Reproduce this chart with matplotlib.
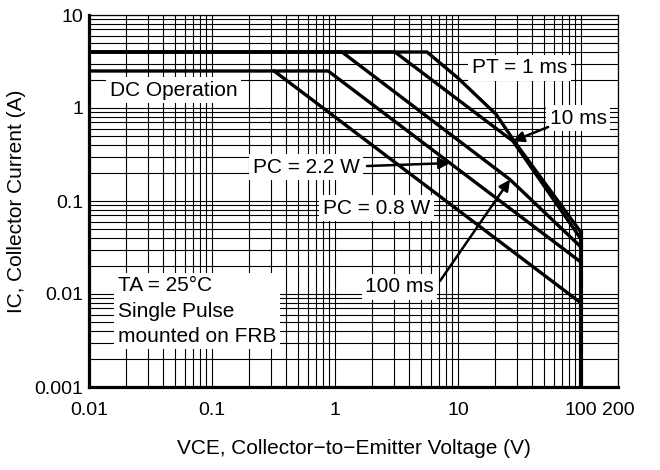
import numpy as np
import matplotlib
matplotlib.use("Agg")
import matplotlib.pyplot as plt
from matplotlib.ticker import LogLocator, NullFormatter, FixedLocator, FixedFormatter

plt.rcParams['font.family'] = ['Liberation Sans', 'DejaVu Sans']

# ---- data ----
v_1ms = [0.01, 5.6, 10, 20.5, 29, 100]
i_1ms = [4, 4, 2.1, 0.85, 0.43, 0.046]
v_10ms = [0.01, 3.07, 28, 100]
i_10ms = [4, 4, 0.44, 0.039]
v_100ms = [0.01, 1.14, 26.5, 100]
i_100ms = [4, 4, 0.17, 0.032]
v_dc22 = [0.01, 0.88, 100]
i_dc22 = [2.5, 2.5, 0.022]
v_dc08 = [0.32, 100]
i_dc08 = [2.5, 0.008]
v_lim = [100, 100]
i_lim = [0.046, 0.001]

x_ticks = [0.01, 0.1, 1, 10, 100, 200]
x_labels = ["0.01", "0.1", "1", "10", "100", "200"]
y_ticks = [0.001, 0.01, 0.1, 1, 10]
y_labels = ["0.001", "0.01", "0.1", "1", "10"]

fig = plt.figure(figsize=(6.6, 4.7), dpi=100)
ax = fig.add_axes([89/660, 1-387/470, 529/660, 372/470])
ax.set_xscale('log')
ax.set_yscale('log')
ax.set_xlim(0.01, 200)
ax.set_ylim(0.001, 10)

ax.xaxis.set_minor_locator(LogLocator(base=10, subs=np.arange(2, 10), numticks=100))
ax.yaxis.set_minor_locator(LogLocator(base=10, subs=np.arange(2, 10), numticks=100))
ax.xaxis.set_minor_formatter(NullFormatter())
ax.yaxis.set_minor_formatter(NullFormatter())
ax.xaxis.set_major_locator(FixedLocator(x_ticks))
ax.xaxis.set_major_formatter(FixedFormatter(x_labels))
ax.yaxis.set_major_locator(FixedLocator(y_ticks))
ax.yaxis.set_major_formatter(FixedFormatter(y_labels))
ax.tick_params(which='both', length=0)
ax.tick_params(axis='x', pad=11, labelsize=14)
ax.tick_params(axis='y', pad=4, labelsize=14)

ax.set_axisbelow(True)
ax.grid(which='both', color='black', lw=0.8)

for s in ['left', 'bottom']:
    ax.spines[s].set_linewidth(2.3)
for s in ['top', 'right']:
    ax.spines[s].set_linewidth(0.9)

lw = 2.4
kw = dict(color='black', lw=lw, solid_joinstyle='miter', zorder=5)
ax.plot(v_1ms, i_1ms, **kw)
ax.plot(v_10ms, i_10ms, **kw)
ax.plot(v_100ms, i_100ms, **kw)
ax.plot(v_dc22, i_dc22, **kw)
ax.plot(v_dc08, i_dc08, **kw)
ax.plot(v_lim, i_lim, color='black', lw=3.0, zorder=5)

box = dict(facecolor='white', edgecolor='none', pad=2.5)
tk = dict(transform=ax.transAxes, fontsize=15, bbox=box, zorder=3, va='center', ha='left')
ax.text(0.0397, 0.798, "DC Operation", **tk)
ax.text(0.724, 0.858, "PT = 1 ms", **tk)
ax.text(0.871, 0.723, "10 ms", **tk)
ax.text(0.310, 0.591, "PC = 2.2 W", **tk)
ax.text(0.442, 0.481, "PC = 0.8 W", **tk)
ax.text(0.522, 0.269, "100 ms", **tk)
ax.text(0.0548, 0.204, "TA = 25°C\nSingle Pulse\nmounted on FRB", linespacing=1.42, **tk)

ap = dict(arrowstyle='-|>', color='black', lw=1.8, mutation_scale=16, shrinkA=0, shrinkB=0)
tip_v22 = 8.6
ax.annotate('', xy=(tip_v22, 2.2 / tip_v22), xycoords='data', xytext=(0.5255, 0.594),
            textcoords='axes fraction', arrowprops=ap, zorder=6)
ax.annotate('', xy=(v_10ms[2], i_10ms[2]), xycoords='data', xytext=(0.868, 0.699),
            textcoords='axes fraction', arrowprops=ap, zorder=6)
ax.annotate('', xy=(v_100ms[2], i_100ms[2]), xycoords='data', xytext=(0.6635, 0.285),
            textcoords='axes fraction', arrowprops=ap, zorder=6)

ax.set_xlabel("VCE, Collector\u2212to\u2212Emitter Voltage (V)", fontsize=15, labelpad=14)
ax.set_ylabel("IC, Collector Current (A)", fontsize=15, labelpad=6)

fig.savefig("out.png", dpi=100)
